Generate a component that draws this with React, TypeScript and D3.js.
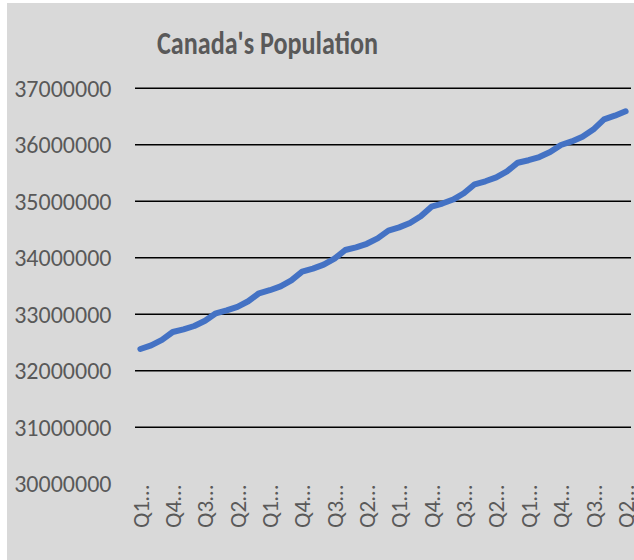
import React from "react";
import * as d3 from "d3";

const title = "Canada's Population";

const categories: string[] = [
  "Q1 2006", "Q2 2006", "Q3 2006", "Q4 2006",
  "Q1 2007", "Q2 2007", "Q3 2007", "Q4 2007",
  "Q1 2008", "Q2 2008", "Q3 2008", "Q4 2008",
  "Q1 2009", "Q2 2009", "Q3 2009", "Q4 2009",
  "Q1 2010", "Q2 2010", "Q3 2010", "Q4 2010",
  "Q1 2011", "Q2 2011", "Q3 2011", "Q4 2011",
  "Q1 2012", "Q2 2012", "Q3 2012", "Q4 2012",
  "Q1 2013", "Q2 2013", "Q3 2013", "Q4 2013",
  "Q1 2014", "Q2 2014", "Q3 2014", "Q4 2014",
  "Q1 2015", "Q2 2015", "Q3 2015", "Q4 2015",
  "Q1 2016", "Q2 2016", "Q3 2016", "Q4 2016",
  "Q1 2017", "Q2 2017",
];

const population: number[] = [
  32386000, 32449000, 32547000, 32687000,
  32733000, 32793000, 32886000, 33018000,
  33068000, 33132000, 33231000, 33372000,
  33426000, 33495000, 33602000, 33755000,
  33809000, 33878000, 33985000, 34138000,
  34186000, 34248000, 34344000, 34480000,
  34539000, 34615000, 34734000, 34904000,
  34960000, 35031000, 35142000, 35301000,
  35354000, 35423000, 35530000, 35683000,
  35727000, 35783000, 35871000, 35996000,
  36060000, 36142000, 36269000, 36451000,
  36515000, 36593000,
];

const yTicks: number[] = [30000000, 31000000, 32000000, 33000000, 34000000, 35000000, 36000000, 37000000];
const labelEvery = 3;

const W = 634;
const H = 560;
const FONT = "Carlito, Calibri, Lato, 'Open Sans', sans-serif";
const TEXT = "#595959";

export default function App() {
  const x = d3.scaleBand<string>().domain(categories).range([135, 631]).padding(0);
  const y = d3.scaleLinear().domain([30000000, 37000000]).range([483.8, 88.3]);
  const cx = (c: string) => (x(c) as number) + x.bandwidth() / 2;

  const line = d3
    .line<number>()
    .x((_, i) => cx(categories[i]))
    .y((d) => y(d));

  return (
    <div style={{ position: "absolute", left: 0, top: 0 }}>
      <svg width={W} height={H} style={{ display: "block" }}>
        <rect x={0} y={0} width={W} height={H} fill="#ffffff" />
        <rect x={7} y={3} width={W - 7} height={H - 3} fill="#d9d9d9" />
        <text
          x={267.5}
          y={54}
          textAnchor="middle"
          fontFamily={FONT}
          fontWeight="bold"
          fontSize={32}
          fill={TEXT}
          textLength={221}
          lengthAdjust="spacingAndGlyphs"
        >
          {title}
        </text>
        {yTicks.map((t) => (
          <g key={t}>
            {t > 30000000 && (
              <line x1={135} x2={631} y1={y(t)} y2={y(t)} stroke="#000" strokeWidth={1.6} />
            )}
            <text
              x={111.5}
              y={y(t)}
              dy="0.36em"
              textAnchor="end"
              fontFamily={FONT}
              fontSize={24}
              fill={TEXT}
            >
              {t}
            </text>
          </g>
        ))}
        {categories.map((c, i) =>
          i % labelEvery === 0 ? (
            <text
              key={c}
              transform={`translate(${cx(c)},485) rotate(-90)`}
              dy="0.36em"
              textAnchor="end"
              fontFamily={FONT}
              fontSize={23}
              fill={TEXT}
            >
              {c.split(" ")[0] + "…"}
            </text>
          ) : null
        )}
        <path
          d={line(population) || ""}
          fill="none"
          stroke="#4472c4"
          strokeWidth={6}
          strokeLinejoin="round"
          strokeLinecap="round"
        />
      </svg>
    </div>
  );
}
